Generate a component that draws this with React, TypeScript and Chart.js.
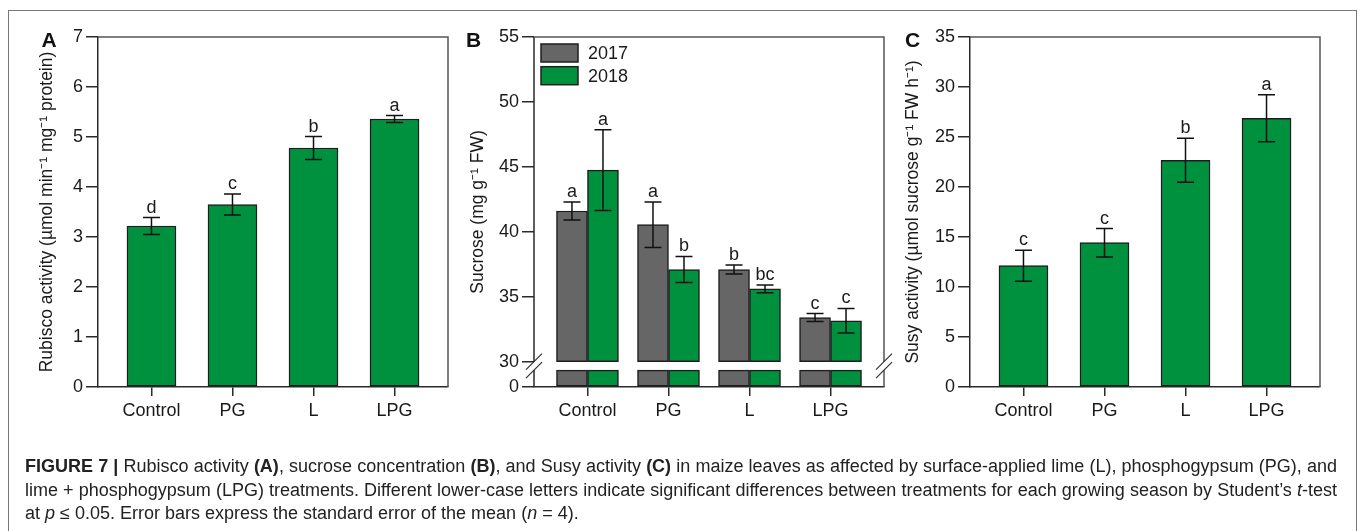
import React, { useEffect, useRef } from 'react';
import { Chart, registerables } from 'chart.js';

Chart.register(...registerables);

// ---------------- data ----------------
const categories = ['Control', 'PG', 'L', 'LPG'];

const rubiscoMeans = [3.22, 3.65, 4.78, 5.36];
const rubiscoSE = [0.17, 0.21, 0.23, 0.07];
const rubiscoLetters = ['d', 'c', 'b', 'a'];
const rubiscoTicks = [0, 1, 2, 3, 4, 5, 6, 7];

const years = ['2017', '2018'];
const sucrose2017 = [41.6, 40.55, 37.1, 33.4];
const sucrose2017SE = [0.7, 1.75, 0.35, 0.3];
const sucrose2017Letters = ['a', 'a', 'b', 'c'];
const sucrose2018 = [44.75, 37.1, 35.6, 33.15];
const sucrose2018SE = [3.1, 1.0, 0.3, 0.95];
const sucrose2018Letters = ['a', 'b', 'bc', 'c'];
const sucroseTickLabels = [0, 30, 35, 40, 45, 50, 55];

const susyMeans = [12.13, 14.43, 22.67, 26.87];
const susySE = [1.55, 1.42, 2.2, 2.35];
const susyLetters = ['c', 'c', 'b', 'a'];
const susyTicks = [0, 5, 10, 15, 20, 25, 30, 35];

// ---------------- style ----------------
const FONT = "'Liberation Sans', Arial, Helvetica, sans-serif";
const GREEN = '#00913f';
const GREY = '#666666';
const EDGE = '#1e1e1e';
const AXIS = '#2a2a2a';
const FRAME = '#555555';
const TEXT = '#1a1a1a';
const CAP = 8.5;
const X_MIN = -0.66;
const X_MAX = 3.66;

// broken axis for panel B (display units: lower segment 0..BREAK_GAP, then value-30)
const BREAK_VALUE = 30;
const BREAK_GAP = 1.95;
const STUB_TOP = 1.3;
const sucroseToAxis = (v: number) => (v >= BREAK_VALUE ? BREAK_GAP + (v - BREAK_VALUE) : (v / BREAK_VALUE) * BREAK_GAP);

type ErrSeries = { datasetIndex: number; means: number[]; se: number[]; letters: string[] };

function errorBarPlugin(series: ErrSeries[], toAxis: (v: number) => number = (v) => v) {
  return {
    id: 'errorBars',
    afterDatasetsDraw(chart: any) {
      const { ctx } = chart;
      const yScale = chart.scales.y;
      ctx.save();
      ctx.strokeStyle = '#111';
      ctx.lineWidth = 1.5;
      ctx.fillStyle = TEXT;
      ctx.font = `18px ${FONT}`;
      ctx.textAlign = 'center';
      ctx.textBaseline = 'alphabetic';
      series.forEach((s) => {
        const meta = chart.getDatasetMeta(s.datasetIndex);
        meta.data.forEach((bar: any, i: number) => {
          const x = bar.x;
          const yHi = yScale.getPixelForValue(toAxis(s.means[i] + s.se[i]));
          const yLo = yScale.getPixelForValue(toAxis(s.means[i] - s.se[i]));
          ctx.beginPath();
          ctx.moveTo(x, yLo);
          ctx.lineTo(x, yHi);
          ctx.moveTo(x - CAP, yHi);
          ctx.lineTo(x + CAP, yHi);
          ctx.moveTo(x - CAP, yLo);
          ctx.lineTo(x + CAP, yLo);
          ctx.stroke();
          ctx.fillText(s.letters[i], x, yHi - 5);
        });
      });
      ctx.restore();
    },
  };
}

const framePlugin = {
  id: 'frame',
  afterDraw(chart: any) {
    const { ctx, chartArea } = chart;
    const { left, right, top, bottom } = chartArea;
    ctx.save();
    ctx.strokeStyle = FRAME;
    ctx.lineWidth = 1.5;
    ctx.beginPath();
    ctx.moveTo(left, top);
    ctx.lineTo(right, top);
    ctx.lineTo(right, bottom);
    ctx.stroke();
    ctx.restore();
  },
};

const brokenFramePlugin = {
  id: 'brokenFrame',
  afterDraw(chart: any) {
    const { ctx, chartArea, scales } = chart;
    const { left, right, top, bottom } = chartArea;
    const yBreak = scales.y.getPixelForValue(BREAK_GAP);
    const yStub = scales.y.getPixelForValue(STUB_TOP);
    ctx.save();
    ctx.lineWidth = 1.5;
    // left axis
    ctx.strokeStyle = AXIS;
    ctx.beginPath();
    ctx.moveTo(left, top);
    ctx.lineTo(left, yBreak);
    ctx.moveTo(left, yStub);
    ctx.lineTo(left, bottom);
    ctx.stroke();
    // top + right
    ctx.strokeStyle = FRAME;
    ctx.beginPath();
    ctx.moveTo(left, top);
    ctx.lineTo(right, top);
    ctx.lineTo(right, yBreak);
    ctx.moveTo(right, yStub);
    ctx.lineTo(right, bottom);
    ctx.stroke();
    // break marks
    ctx.strokeStyle = '#333';
    ctx.lineWidth = 1.2;
    [left, right].forEach((x) => {
      [yBreak, yStub].forEach((y) => {
        ctx.beginPath();
        ctx.moveTo(x - 8, y + 8);
        ctx.lineTo(x + 8, y - 8);
        ctx.stroke();
      });
    });
    ctx.restore();
  },
};

const legendPlugin = {
  id: 'insideLegend',
  afterDraw(chart: any) {
    const { ctx, chartArea } = chart;
    const x0 = chartArea.left + 7;
    const y0 = chartArea.top + 7;
    const fills = [GREY, GREEN];
    ctx.save();
    years.forEach((yr, i) => {
      const y = y0 + i * 22.7;
      ctx.fillStyle = fills[i];
      ctx.fillRect(x0, y, 37, 18);
      ctx.strokeStyle = EDGE;
      ctx.lineWidth = 1.5;
      ctx.strokeRect(x0, y, 37, 18);
      ctx.fillStyle = TEXT;
      ctx.font = `18px ${FONT}`;
      ctx.textAlign = 'left';
      ctx.textBaseline = 'middle';
      ctx.fillText(yr, x0 + 47, y + 10);
    });
    ctx.restore();
  },
};

function xScale() {
  return {
    type: 'linear',
    min: X_MIN,
    max: X_MAX,
    offset: false,
    afterBuildTicks: (axis: any) => {
      axis.ticks = categories.map((_, i) => ({ value: i }));
    },
    ticks: {
      callback: (v: any) => categories[Math.round(v)] ?? '',
      font: { family: FONT, size: 18 },
      color: TEXT,
      padding: 4,
      maxRotation: 0,
      autoSkip: false,
    },
    grid: { offset: false, drawOnChartArea: false, drawTicks: true, tickLength: 9, color: AXIS, lineWidth: 1.5 },
    border: { display: true, color: AXIS, width: 1.5 },
    afterFit: (s: any) => {
      s.height = 43;
    },
  };
}

function yScale(opts: {
  min: number;
  max: number;
  tickValues: number[];
  label: (v: number, i: number) => string;
  title: string;
  titlePad: number;
  width: number;
  border: boolean;
}) {
  return {
    type: 'linear',
    min: opts.min,
    max: opts.max,
    stacked: false,
    afterBuildTicks: (axis: any) => {
      axis.ticks = opts.tickValues.map((v) => ({ value: v }));
    },
    ticks: {
      callback: (v: any, i: number) => opts.label(v, i),
      font: { family: FONT, size: 18 },
      color: TEXT,
      padding: 3,
    },
    grid: { drawOnChartArea: false, drawTicks: true, tickLength: 12, color: AXIS, lineWidth: 1.5 },
    border: { display: opts.border, color: AXIS, width: 1.5 },
    title: {
      display: true,
      text: opts.title,
      font: { family: FONT, size: 17.5 },
      color: TEXT,
      padding: { top: opts.titlePad, bottom: 0 },
    },
    afterFit: (s: any) => {
      s.width = opts.width;
    },
  };
}

function baseOptions(scales: any, paddingRight: number) {
  return {
    responsive: false,
    animation: false,
    devicePixelRatio: 1,
    events: [],
    layout: { padding: { left: 0, top: 37, right: paddingRight, bottom: 0 } },
    plugins: { legend: { display: false }, tooltip: { enabled: false } },
    scales,
  };
}

function configA(): any {
  return {
    type: 'bar',
    data: {
      datasets: [
        {
          data: rubiscoMeans.map((v, i) => ({ x: i, y: v })),
          backgroundColor: GREEN,
          borderColor: EDGE,
          borderWidth: 1.5,
          borderSkipped: false,
          barThickness: 49,
        },
      ],
    },
    options: baseOptions(
      {
        x: xScale(),
        y: yScale({
          min: 0,
          max: 7,
          tickValues: rubiscoTicks,
          label: (v) => String(v),
          title: 'Rubisco activity (µmol min⁻¹ mg⁻¹ protein)',
          titlePad: 37,
          width: 98,
          border: true,
        }),
      },
      7
    ),
    plugins: [
      framePlugin,
      errorBarPlugin([{ datasetIndex: 0, means: rubiscoMeans, se: rubiscoSE, letters: rubiscoLetters }]),
    ],
  };
}

function configB(): any {
  const common = { borderColor: EDGE, borderWidth: 1.5, borderSkipped: false, barThickness: 31 };
  return {
    type: 'bar',
    data: {
      datasets: [
        {
          label: years[0],
          stack: 's2017',
          data: sucrose2017.map((v, i) => ({ x: i, y: [BREAK_GAP, sucroseToAxis(v)] })),
          backgroundColor: GREY,
          ...common,
        },
        {
          label: years[1],
          stack: 's2018',
          data: sucrose2018.map((v, i) => ({ x: i, y: [BREAK_GAP, sucroseToAxis(v)] })),
          backgroundColor: GREEN,
          ...common,
        },
        {
          label: years[0] + ' below break',
          stack: 's2017',
          data: sucrose2017.map((_, i) => ({ x: i, y: [0, STUB_TOP] })),
          backgroundColor: GREY,
          ...common,
        },
        {
          label: years[1] + ' below break',
          stack: 's2018',
          data: sucrose2018.map((_, i) => ({ x: i, y: [0, STUB_TOP] })),
          backgroundColor: GREEN,
          ...common,
        },
      ],
    },
    options: baseOptions(
      {
        x: xScale(),
        y: yScale({
          min: 0,
          max: sucroseToAxis(55),
          tickValues: sucroseTickLabels.map((v) => sucroseToAxis(v)),
          label: (_v, i) => String(sucroseTickLabels[i]),
          title: 'Sucrose (mg g⁻¹ FW)',
          titlePad: 13,
          width: 79,
          border: false,
        }),
      },
      16
    ),
    plugins: [
      brokenFramePlugin,
      legendPlugin,
      errorBarPlugin(
        [
          { datasetIndex: 0, means: sucrose2017, se: sucrose2017SE, letters: sucrose2017Letters },
          { datasetIndex: 1, means: sucrose2018, se: sucrose2018SE, letters: sucrose2018Letters },
        ],
        sucroseToAxis
      ),
    ],
  };
}

function configC(): any {
  return {
    type: 'bar',
    data: {
      datasets: [
        {
          data: susyMeans.map((v, i) => ({ x: i, y: v })),
          backgroundColor: GREEN,
          borderColor: EDGE,
          borderWidth: 1.5,
          borderSkipped: false,
          barThickness: 49,
        },
      ],
    },
    options: baseOptions(
      {
        x: xScale(),
        y: yScale({
          min: 0,
          max: 35,
          tickValues: susyTicks,
          label: (v) => String(v),
          title: 'Susy activity (µmol sucrose g⁻¹ FW h⁻¹)',
          titlePad: 3,
          width: 70,
          border: true,
        }),
      },
      40
    ),
    plugins: [
      framePlugin,
      errorBarPlugin([{ datasetIndex: 0, means: susyMeans, se: susySE, letters: susyLetters }]),
    ],
  };
}

function ChartCanvas({ make, left, width, height }: { make: () => any; left: number; width: number; height: number }) {
  const ref = useRef<HTMLCanvasElement | null>(null);
  useEffect(() => {
    if (!ref.current) return;
    const chart = new Chart(ref.current, make());
    return () => chart.destroy();
  }, [make]);
  return (
    <canvas
      ref={ref}
      width={width}
      height={height}
      style={{ position: 'absolute', left, top: 0, width, height, display: 'block' }}
    />
  );
}

const letterStyle: React.CSSProperties = {
  position: 'absolute',
  top: 28.5,
  fontFamily: FONT,
  fontWeight: 'bold',
  fontSize: 21,
  lineHeight: '21px',
  color: '#111',
};

const captionFont = "'Liberation Sans Narrow', 'Liberation Sans', Arial, sans-serif";

export default function App() {
  return (
    <div
      style={{
        position: 'absolute',
        left: 0,
        top: 0,
        width: 1360,
        height: 531,
        overflow: 'hidden',
        background: '#fff',
      }}
    >
      <ChartCanvas make={configA} left={0} width={455} height={430} />
      <ChartCanvas make={configB} left={455} width={445} height={430} />
      <ChartCanvas make={configC} left={900} width={460} height={430} />
      <div style={{ ...letterStyle, left: 41.5 }}>A</div>
      <div style={{ ...letterStyle, left: 466 }}>B</div>
      <div style={{ ...letterStyle, left: 905 }}>C</div>
      <div
        style={{
          position: 'absolute',
          left: 8,
          top: 10,
          width: 1349,
          height: 560,
          borderTop: '1.5px solid #777',
          borderLeft: '1.5px solid #777',
          borderRight: '1.5px solid #777',
          boxSizing: 'border-box',
          pointerEvents: 'none',
        }}
      />
      <div
        style={{
          position: 'absolute',
          left: 25,
          top: 455,
          width: 1312,
          fontFamily: captionFont,
          fontSize: 18,
          lineHeight: '23.5px',
          color: '#222',
        }}
      >
        <div style={{ textAlign: 'justify', textAlignLast: 'justify' }}>
          <b>FIGURE 7 |</b> Rubisco activity <b>(A)</b>, sucrose concentration <b>(B)</b>, and Susy activity <b>(C)</b> in
          maize leaves as affected by surface-applied lime (L), phosphogypsum (PG), and
        </div>
        <div style={{ textAlign: 'justify', textAlignLast: 'justify' }}>
          lime + phosphogypsum (LPG) treatments. Different lower-case letters indicate significant differences between
          treatments for each growing season by Student’s <i>t</i>-test
        </div>
        <div>
          at <i>p</i> ≤ 0.05. Error bars express the standard error of the mean (<i>n</i> = 4).
        </div>
      </div>
    </div>
  );
}
